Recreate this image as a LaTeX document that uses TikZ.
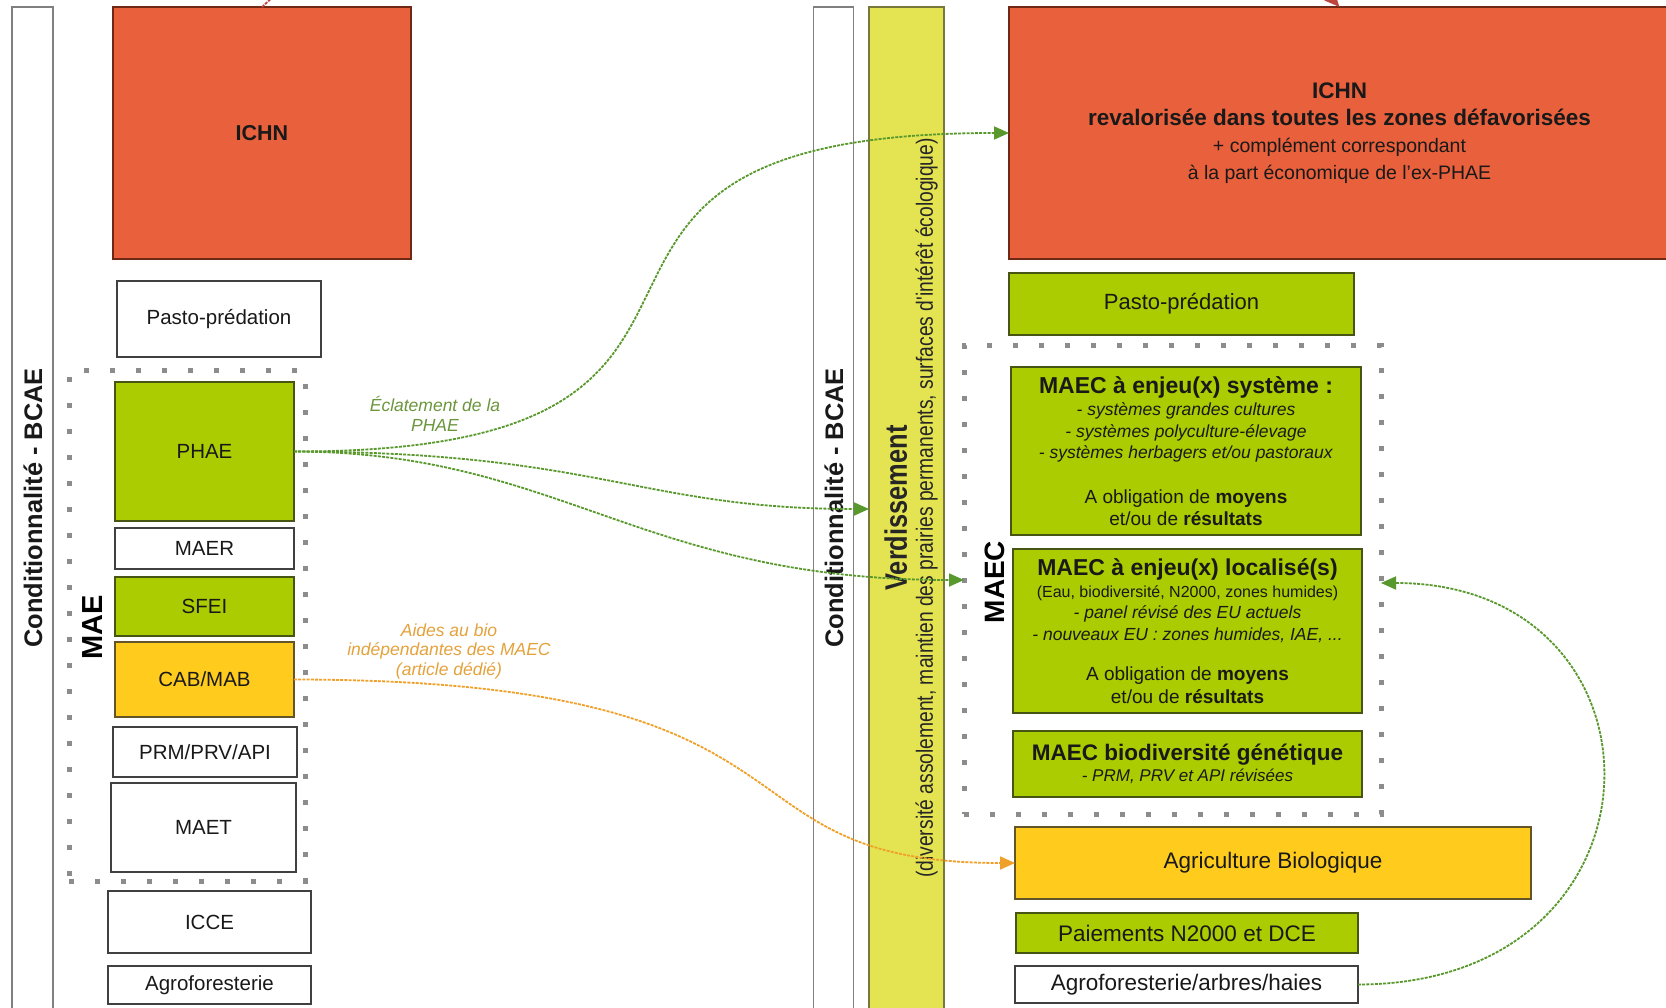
\documentclass[tikz,border=0pt]{standalone}
\usepackage{fontspec}
\setmainfont{Liberation Sans}
\newfontfamily\narrowf[FakeStretch=0.82]{Liberation Sans}
\usetikzlibrary{arrows.meta}
\definecolor{ichn}{RGB}{232,96,60}
\definecolor{ichnborder}{RGB}{110,40,20}
\definecolor{vert}{RGB}{170,204,0}
\definecolor{vertborder}{RGB}{70,85,20}
\definecolor{jaune}{RGB}{255,204,30}
\definecolor{jauneborder}{RGB}{100,85,40}
\definecolor{verd}{RGB}{228,228,82}
\definecolor{verdborder}{RGB}{120,120,60}
\definecolor{flgreen}{RGB}{88,152,44}
\definecolor{florange}{RGB}{240,160,40}
\definecolor{lblgreen}{RGB}{106,150,60}
\definecolor{lblorange}{RGB}{228,162,60}
\definecolor{dotgray}{RGB}{140,140,140}
\definecolor{flred}{RGB}{190,70,60}
\begin{document}
\begin{tikzpicture}[x=1pt,y=-1pt,
  box/.style={rectangle, draw=black!75, line width=1.3pt, inner sep=0pt, outer sep=0pt, text=black!90},
  gbox/.style={box, fill=vert, draw=vertborder},
  ybox/.style={box, fill=jaune, draw=jauneborder},
  rbox/.style={box, fill=ichn, draw=ichnborder},
  barbox/.style={rectangle, draw=black!50, line width=1.6pt, inner sep=0pt, outer sep=0pt, fill=white},
  dotbox/.style={rectangle, draw=dotgray, line width=5pt, dash pattern=on 5pt off 21pt, inner sep=0pt, outer sep=0pt},
  lefttxt/.style={font=\fontsize{20.5}{24}\selectfont},
  gflow/.style={draw=flgreen, line width=1.8pt, dash pattern=on 3pt off 1.2pt, -{Triangle[length=15pt,width=13pt]}},
  oflow/.style={draw=florange, line width=1.8pt, dash pattern=on 3pt off 1.2pt, -{Triangle[length=15pt,width=13pt]}},
  rflow/.style={draw=flred, line width=1.8pt, dash pattern=on 3pt off 1.2pt, -{Triangle[length=15pt,width=13pt]}},
  vlabel/.style={rotate=90, font=\fontsize{25.4}{30}\selectfont\bfseries, text=black!90},
]
\useasboundingbox (0,0) rectangle (1666,1008);
\clip (0,0) rectangle (1666,1008);
\fill[white] (0,0) rectangle (1666,1008);

% ---------- left column ----------
\node[barbox, minimum width=41, minimum height=1010] (cond1) at (32.5,512) {};
\node[vlabel] (cond1txt) at (33,508) {Conditionnalité - BCAE};

\node[rbox, minimum width=298, minimum height=252, font=\fontsize{21.5}{25}\selectfont\bfseries] (ichnL) at (262,133) {ICHN};
\node[box, lefttxt, minimum width=204, minimum height=76] (pastoL) at (219,319) {Pasto-prédation};

\node[dotbox, minimum width=236, minimum height=510] (maebox) at (187,626) {};
\node[rotate=90, font=\fontsize{29}{32}\selectfont\bfseries] (maetxt) at (93,627) {MAE};

\node[gbox, lefttxt, minimum width=179, minimum height=139] (phae) at (204.5,451.5) {PHAE};
\node[box, lefttxt, minimum width=179, minimum height=41] (maer) at (204.5,548.5) {MAER};
\node[gbox, lefttxt, minimum width=179, minimum height=59] (sfei) at (204.5,606.5) {SFEI};
\node[ybox, lefttxt, minimum width=179, minimum height=75] (cab) at (204.5,679.5) {CAB/MAB};
\node[box, lefttxt, minimum width=184, minimum height=50] (prm) at (205,752) {PRM/PRV/API};
\node[box, lefttxt, minimum width=185, minimum height=89] (maet) at (203.5,827.5) {MAET};
\node[box, lefttxt, minimum width=203, minimum height=62] (icce) at (209.5,922) {ICCE};
\node[box, lefttxt, minimum width=203, minimum height=38] (agroL) at (209.5,985) {Agroforesterie};

% ---------- middle bars ----------
\node[barbox, minimum width=40, minimum height=1010] (cond2) at (833.5,512) {};
\node[vlabel] (cond2txt) at (834,508) {Conditionnalité - BCAE};
\node[rectangle, draw=verdborder, line width=1.3pt, fill=verd, inner sep=0pt, outer sep=0pt, minimum width=75, minimum height=1010] (verd) at (906.5,512) {};
\node[rotate=90, align=center, font=\narrowf\fontsize{23.5}{26}\selectfont, text=black!85] (verdtxt) at (911,508)
  {{\fontsize{31}{31}\selectfont\bfseries Verdissement}\\(diversité assolement, maintien des prairies permanents, surfaces d'intérêt écologique)};

% ---------- right column ----------
\node[rbox, minimum width=661, minimum height=252, align=center, font=\fontsize{19.5}{27}\selectfont] (ichnR) at (1339.5,133)
  {{\fontsize{22.5}{27}\selectfont\bfseries ICHN}\\{\fontsize{22.5}{27}\selectfont\bfseries revalorisée dans toutes les zones défavorisées}\\+ complément correspondant\\à la part économique de l'ex-PHAE};

\node[gbox, minimum width=345, minimum height=62, font=\fontsize{22}{26}\selectfont] (pastoR) at (1181.5,304) {Pasto-prédation};

\node[dotbox, minimum width=417, minimum height=468] (maecbox) at (1172.5,580) {};
\node[rotate=90, font=\fontsize{28}{32}\selectfont\bfseries] (maectxt) at (995,582) {MAEC};

\node[gbox, minimum width=350, minimum height=168, align=center, font=\fontsize{17.5}{21.5}\selectfont] (sys) at (1186,451)
  {{\fontsize{23}{23}\selectfont\bfseries MAEC à enjeu(x) système :}\\[1pt]
   \textit{- systèmes grandes cultures}\\
   \textit{- systèmes polyculture-élevage}\\
   \textit{- systèmes herbagers et/ou pastoraux}\\[23pt]
   {\fontsize{19}{22}\selectfont A obligation de \textbf{moyens}}\\[1pt]
   {\fontsize{19}{22}\selectfont et/ou de \textbf{résultats}}};

\node[gbox, minimum width=349, minimum height=164, align=center, font=\fontsize{17.5}{21.5}\selectfont] (loc) at (1187.5,631)
  {{\fontsize{23}{23}\selectfont\bfseries MAEC à enjeu(x) localisé(s)}\\
   {\fontsize{16}{19}\selectfont (Eau, biodiversité, N2000, zones humides)}\\
   \textit{- panel révisé des EU actuels}\\
   \textit{- nouveaux EU : zones humides, IAE, ...}\\[19pt]
   {\fontsize{19}{22}\selectfont A obligation de \textbf{moyens}}\\[1pt]
   {\fontsize{19}{22}\selectfont et/ou de \textbf{résultats}}};

\node[gbox, minimum width=349, minimum height=66, align=center, font=\fontsize{17}{20}\selectfont] (bio) at (1187.5,764)
  {{\fontsize{22.5}{24}\selectfont\bfseries MAEC biodiversité génétique}\\[1pt]
   \textit{- PRM, PRV et API révisées}};

\node[ybox, minimum width=516, minimum height=72, font=\fontsize{22.5}{26}\selectfont] (agribio) at (1273,863) {Agriculture Biologique};
\node[gbox, minimum width=342, minimum height=40, font=\fontsize{22.5}{26}\selectfont] (paie) at (1187,933) {Paiements N2000 et DCE};
\node[box, minimum width=343, minimum height=37, font=\fontsize{22.5}{26}\selectfont] (agroR) at (1186.5,984.5) {Agroforesterie/arbres/haies};

% ---------- labels ----------
\node[align=center, font=\fontsize{17.5}{19.5}\selectfont\itshape, text=lblgreen] (lblphae) at (435,414) {Éclatement de la\\PHAE};
\node[align=center, font=\fontsize{17.5}{19.5}\selectfont\itshape, text=lblorange] (lblbio) at (449,651) {Aides au bio\\indépendantes des MAEC\\(article dédié)};

% ---------- connectors ----------
\draw[gflow] (phae.east) .. controls (844,452) and (455,133) .. (ichnR.west);
\draw[gflow] (phae.east) .. controls (600,452) and (640,509) .. ([yshift=3pt]verd.west);
\draw[gflow] (phae.east) .. controls (560,452) and (640,580) .. (maecbox.west);
\draw[oflow] (cab.east) .. controls (850,680) and (700,863) .. (agribio.west);
\draw[gflow] (agroR.east) .. controls (1680,984) and (1680,583) .. ([yshift=-3pt]maecbox.east);
\draw[rflow] (ichnL.north) .. controls (480,-200) and (1150,-200) .. (ichnR.north);
\end{tikzpicture}
\end{document}
